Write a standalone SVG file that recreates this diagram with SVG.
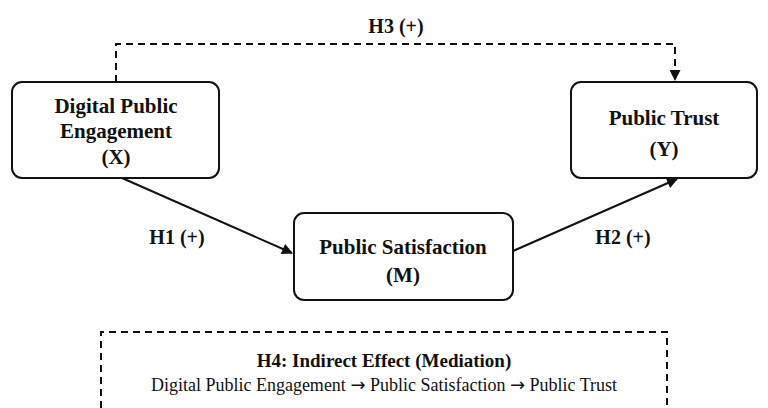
<svg xmlns="http://www.w3.org/2000/svg" width="768" height="408" viewBox="0 0 768 408">
<style>
.node{fill:#fff;stroke:#111;stroke-width:2}
.t{font-family:"Liberation Serif","Times New Roman",serif;fill:#111;text-anchor:middle}
.b{font-weight:bold}
.edge{fill:none;stroke:#111;stroke-width:2}
.dash{stroke-dasharray:7,5}
.arr{font-family:"DejaVu Sans",sans-serif}
</style>
<defs>
<marker id="ah" viewBox="0 0 10 10" refX="9" refY="5" markerWidth="7" markerHeight="5.5" orient="auto" markerUnits="strokeWidth">
<path d="M0,0 L10,5 L0,10 z" fill="#111"/>
</marker>
</defs>
<rect width="768" height="408" fill="#fff"/>
<g id="connectors">
<path class="edge dash" d="M116,82 V44 H675 V80" marker-end="url(#ah)"/>
<line class="edge" x1="122" y1="178" x2="292" y2="253" marker-end="url(#ah)"/>
<line class="edge" x1="513" y1="251" x2="677" y2="179" marker-end="url(#ah)"/>
<text class="t b" x="396" y="33" font-size="20">H3 (+)</text>
<text class="t b" x="177" y="244" font-size="20">H1 (+)</text>
<text class="t b" x="623" y="244" font-size="20">H2 (+)</text>
</g>
<g id="nodeX">
<rect class="node" x="12" y="82" width="207" height="96" rx="10"/>
<text class="t b" x="116" y="113" font-size="21">Digital Public</text>
<text class="t b" x="116" y="138" font-size="21">Engagement</text>
<text class="t b" x="116" y="164" font-size="21">(X)</text>
</g>
<g id="nodeY">
<rect class="node" x="571" y="82" width="186" height="96" rx="10"/>
<text class="t b" x="664" y="125" font-size="21">Public Trust</text>
<text class="t b" x="664" y="156" font-size="21">(Y)</text>
</g>
<g id="nodeM">
<rect class="node" x="294" y="213" width="219" height="87" rx="10"/>
<text class="t b" x="403" y="254" font-size="21">Public Satisfaction</text>
<text class="t b" x="403" y="282" font-size="21">(M)</text>
</g>
<g id="nodeH4">
<path class="edge dash" d="M101,420 V332 H667 V420" stroke-width="1.5"/>
<text class="t b" x="384" y="367" font-size="19">H4: Indirect Effect (Mediation)</text>
<text class="t" x="384" y="391" font-size="18">Digital Public Engagement <tspan class="arr">→</tspan> Public Satisfaction <tspan class="arr">→</tspan> Public Trust</text>
</g>
</svg>
